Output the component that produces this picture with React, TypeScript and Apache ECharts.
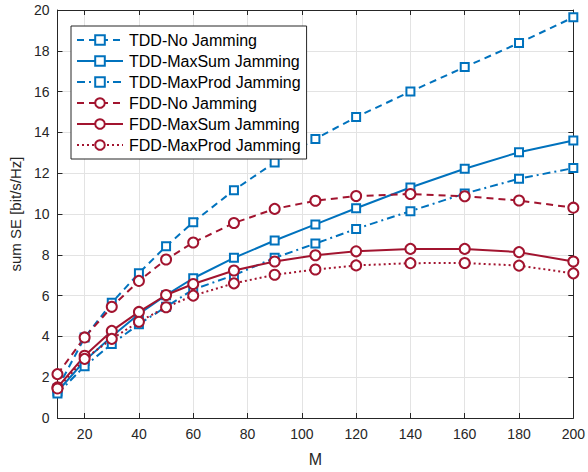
import React, { useEffect, useRef } from "react";
import * as echarts from "echarts";

const mValues = [10, 20, 30, 40, 50, 60, 75, 90, 105, 120, 140, 160, 180, 200];
const tddNo = [1.45, 3.94, 5.65, 7.1, 8.42, 9.6, 11.17, 12.53, 13.68, 14.75, 16.0, 17.2, 18.38, 19.64];
const tddMaxSum = [1.3, 2.8, 4.0, 5.1, 6.02, 6.85, 7.85, 8.7, 9.49, 10.28, 11.3, 12.22, 13.03, 13.6];
const tddMaxProd = [1.2, 2.54, 3.63, 4.6, 5.45, 6.3, 7.0, 7.85, 8.55, 9.27, 10.14, 11.0, 11.73, 12.25];
const fddNo = [2.15, 3.95, 5.45, 6.72, 7.77, 8.6, 9.56, 10.25, 10.65, 10.88, 10.98, 10.87, 10.66, 10.31];
const fddMaxSum = [1.5, 3.05, 4.27, 5.2, 6.03, 6.57, 7.23, 7.67, 7.98, 8.17, 8.29, 8.29, 8.13, 7.67];
const fddMaxProd = [1.45, 2.9, 3.88, 4.72, 5.43, 6.0, 6.6, 7.02, 7.28, 7.48, 7.59, 7.6, 7.47, 7.09];
const xTicks = [20, 40, 60, 80, 100, 120, 140, 160, 180, 200];

const BLUE = "#0072BD";
const RED = "#A2142F";
const AX = "#262626";
const FONT = "Liberation Sans, Arial, sans-serif";

const pairs = (ys: number[]) => ys.map((y, i) => [mValues[i], y]);

export default function App() {
  const ref = useRef<HTMLDivElement>(null);
  useEffect(() => {
    if (!ref.current) return;
    const chart = echarts.init(ref.current, undefined, { renderer: "svg" });
    const mk = (name: string, data: number[], color: string, dash: any, symbol: string, size: number) => ({
      name,
      type: "line",
      data: pairs(data),
      symbol,
      symbolSize: size,
      showAllSymbol: true,
      lineStyle: { color, width: 2, type: dash },
      itemStyle: { color: "#ffffff", borderColor: color, borderWidth: 2 },
      emphasis: { disabled: true },
    });
    const xCommon = {
      type: "value",
      min: 10,
      max: 200,
      axisLine: { show: true, onZero: false, lineStyle: { color: AX, width: 1 } },
    };
    const yCommon = {
      type: "value",
      min: 0,
      max: 20,
      interval: 2,
      axisLine: { show: true, onZero: false, lineStyle: { color: AX, width: 1 } },
    };
    chart.setOption({
      animation: false,
      backgroundColor: "#ffffff",
      textStyle: { fontFamily: FONT },
      grid: { left: 55, top: 10, right: 12, bottom: 51, containLabel: false },
      xAxis: [
        {
          ...xCommon,
          position: "bottom",
          name: "M",
          nameLocation: "middle",
          nameGap: 33,
          nameTextStyle: { color: AX, fontSize: 16, fontFamily: FONT },
          axisTick: { show: true, inside: true, length: 5, customValues: xTicks, lineStyle: { color: AX } },
          axisLabel: { customValues: xTicks, color: AX, fontSize: 14, margin: 9, fontFamily: FONT },
          splitLine: { show: true, lineStyle: { color: "#e3e3e3", width: 1 } },
        },
        {
          ...xCommon,
          position: "top",
          axisTick: { show: true, inside: true, length: 5, customValues: xTicks, lineStyle: { color: AX } },
          axisLabel: { show: false },
          splitLine: { show: false },
        },
      ],
      yAxis: [
        {
          ...yCommon,
          position: "left",
          name: "sum SE [bit/s/Hz]",
          nameLocation: "middle",
          nameGap: 28,
          nameTextStyle: { color: AX, fontSize: 15, fontFamily: FONT },
          axisTick: { show: true, inside: true, length: 5, lineStyle: { color: AX } },
          axisLabel: { color: AX, fontSize: 14, margin: 8, fontFamily: FONT },
          splitLine: { show: true, lineStyle: { color: "#e3e3e3", width: 1 } },
        },
        {
          ...yCommon,
          position: "right",
          axisTick: { show: true, inside: true, length: 5, lineStyle: { color: AX } },
          axisLabel: { show: false },
          splitLine: { show: false },
        },
      ],
      legend: {
        orient: "vertical",
        left: 71,
        top: 26,
        itemWidth: 46,
        itemHeight: 12,
        itemGap: 5,
        padding: [6, 6, 6, 5],
        borderColor: AX,
        borderWidth: 1,
        borderRadius: 0,
        backgroundColor: "#ffffff",
        textStyle: { color: "#000000", fontSize: 16, fontFamily: FONT, padding: [0, 0, 0, 1] },
        data: [
          "TDD-No Jamming",
          "TDD-MaxSum Jamming",
          "TDD-MaxProd Jamming",
          "FDD-No Jamming",
          "FDD-MaxSum Jamming",
          "FDD-MaxProd Jamming",
        ],
      },
      series: [
        mk("TDD-No Jamming", tddNo, BLUE, [7, 5], "rect", 8),
        mk("TDD-MaxSum Jamming", tddMaxSum, BLUE, "solid", "rect", 8),
        mk("TDD-MaxProd Jamming", tddMaxProd, BLUE, [8, 4, 2, 4], "rect", 8),
        mk("FDD-No Jamming", fddNo, RED, [7, 5], "circle", 10),
        mk("FDD-MaxSum Jamming", fddMaxSum, RED, "solid", "circle", 10),
        mk("FDD-MaxProd Jamming", fddMaxProd, RED, [2, 3], "circle", 10),
      ],
    });
    return () => chart.dispose();
  }, []);
  return <div ref={ref} style={{ width: 588, height: 472, position: "absolute", left: 0, top: 0 }} />;
}
